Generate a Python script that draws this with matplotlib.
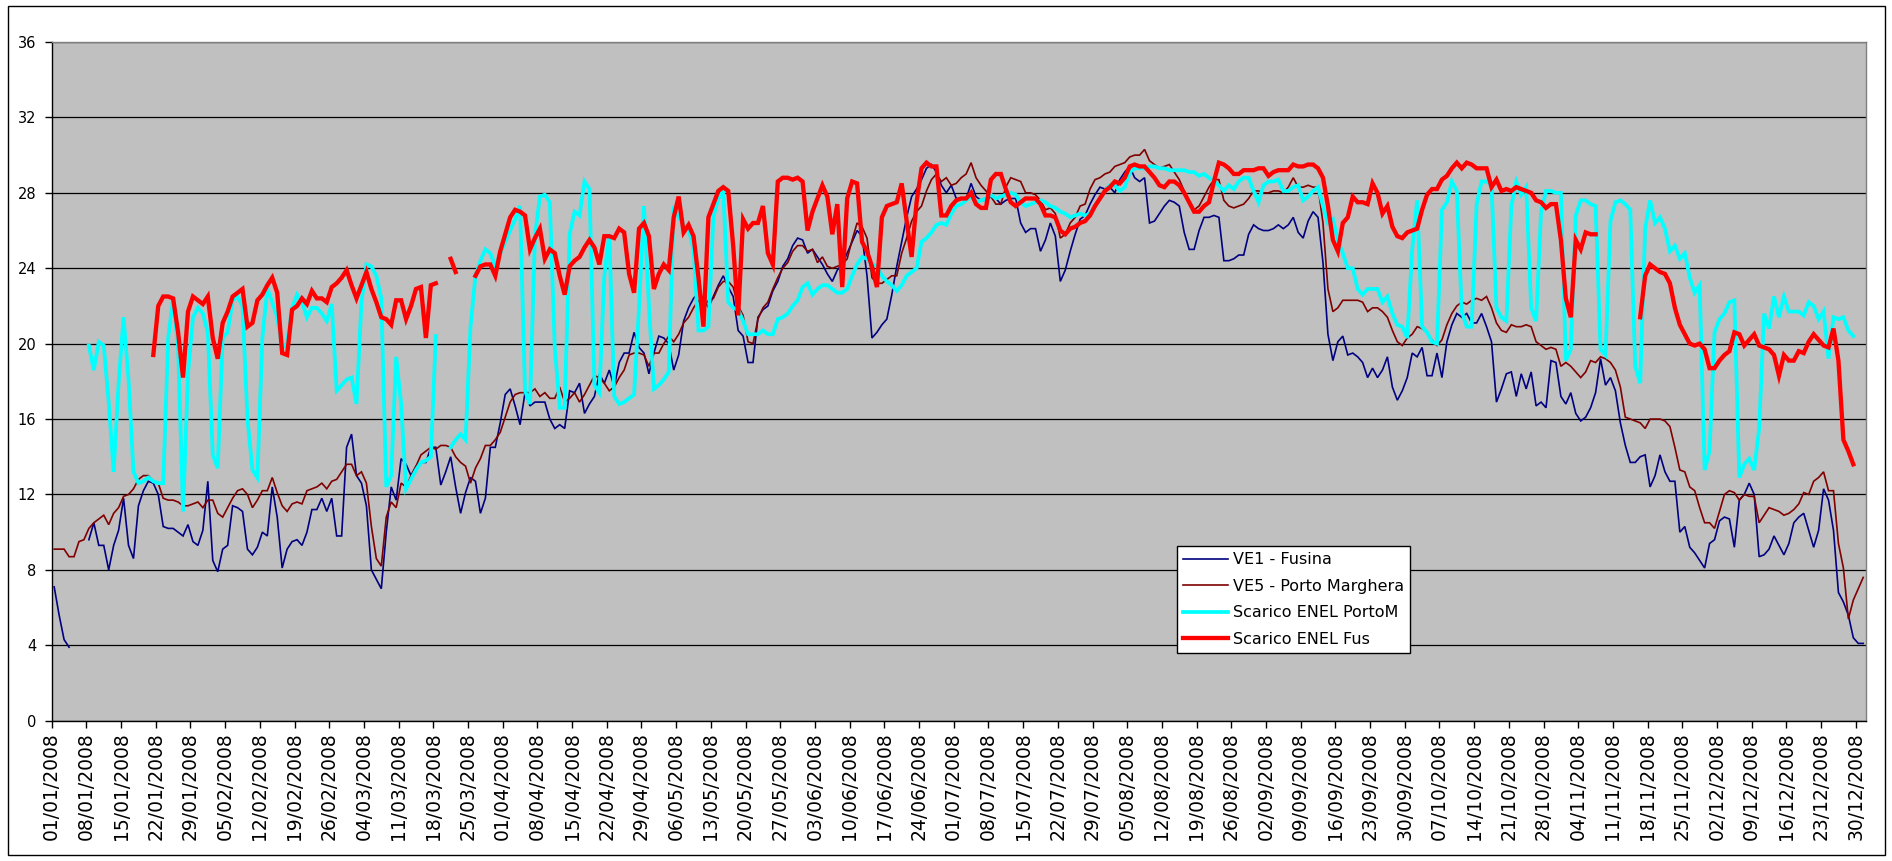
import numpy as np
import matplotlib
matplotlib.use('Agg')
import matplotlib.pyplot as plt
from matplotlib.patches import Rectangle
from datetime import date, timedelta

nan = np.nan

# daily values, 01/01/2008 .. 31/12/2008 (366 days)
ve1_fusina = [
    7.1, 5.6, 4.3, 3.9, nan, nan, nan, 9.6, 10.5, 9.3,
    9.3, 8.0, 9.3, 10.1, 11.8, 9.3, 8.6, 11.4, 12.2, 12.7,
    12.6, 12.0, 10.3, 10.2, 10.2, 10.0, 9.8, 10.4, 9.5, 9.3,
    10.1, 12.7, 8.5, 7.9, 9.1, 9.3, 11.4, 11.3, 11.1, 9.1,
    8.8, 9.2, 10.0, 9.8, 12.4, 10.8, 8.1, 9.1, 9.5, 9.6,
    9.3, 10.0, 11.2, 11.2, 11.8, 11.1, 11.8, 9.8, 9.8, 14.5,
    15.2, 13.0, 12.6, 11.4, 8.0, 7.5, 7.0, 10.0, 12.4, 11.7,
    13.9, 13.6, 13.0, 13.5, 13.7, 13.7, 14.5, 14.5, 12.5, 13.2,
    14.0, 12.4, 11.0, 12.1, 12.9, 12.7, 11.0, 11.8, 14.5, 14.5,
    15.8, 17.3, 17.6, 16.7, 15.7, 17.4, 16.7, 16.9, 16.9, 16.9,
    16.0, 15.5, 15.7, 15.5, 17.5, 17.4, 17.9, 16.3, 16.8, 17.2,
    18.4, 17.9, 18.6, 17.7, 19.0, 19.5, 19.5, 20.6, 19.8, 19.5,
    18.4, 19.5, 20.4, 20.3, 20.0, 18.6, 19.4, 21.2, 21.9, 22.4,
    22.7, 22.4, 21.9, 22.5, 23.1, 23.6, 23.0, 22.5, 20.7, 20.4,
    19.0, 19.0, 21.4, 21.8, 22.0, 22.8, 23.3, 24.1, 24.5, 25.2,
    25.6, 25.5, 24.8, 25.0, 24.6, 24.2, 23.7, 23.3, 23.9, 24.2,
    24.8, 25.4, 26.0, 25.7, 23.6, 20.3, 20.6, 21.0, 21.3, 22.6,
    24.1, 25.4, 26.7, 27.8, 28.2, 28.7, 29.3, 29.5, 29.1, 28.4,
    28.0, 28.4, 27.7, 27.7, 27.7, 28.5, 27.8, 27.6, 27.6, 27.8,
    27.7, 27.4, 27.6, 27.7, 27.7, 26.4, 25.9, 26.1, 26.1, 24.9,
    25.5, 26.4, 25.7, 23.3, 23.9, 24.9, 25.8, 26.6, 26.8, 27.4,
    27.9, 28.3, 28.2, 28.3, 28.0, 28.7, 29.1, 29.4, 28.8, 28.6,
    28.8, 26.4, 26.5, 26.9, 27.3, 27.6, 27.5, 27.3, 25.9, 25.0,
    25.0, 26.0, 26.7, 26.7, 26.8, 26.7, 24.4, 24.4, 24.5, 24.7,
    24.7, 25.8, 26.3, 26.1, 26.0, 26.0, 26.1, 26.3, 26.1, 26.3,
    26.7, 25.9, 25.6, 26.5, 27.0, 26.7, 24.3, 20.5, 19.1, 20.1,
    20.4, 19.4, 19.5, 19.3, 19.0, 18.2, 18.7, 18.2, 18.6, 19.3,
    17.7, 17.0, 17.5, 18.2, 19.5, 19.3, 19.8, 18.3, 18.3, 19.5,
    18.2, 20.1, 21.0, 21.6, 21.4, 21.6, 21.1, 21.1, 21.6, 20.9,
    20.1, 16.9, 17.6, 18.4, 18.5, 17.2, 18.4, 17.6, 18.5, 16.7,
    16.9, 16.6, 19.1, 19.0, 17.2, 16.8, 17.4, 16.3, 15.9, 16.1,
    16.6, 17.4, 19.2, 17.8, 18.2, 17.5, 15.8, 14.6, 13.7, 13.7,
    14.0, 14.1, 12.4, 13.0, 14.1, 13.2, 12.7, 12.7, 10.0, 10.3,
    9.2, 8.9, 8.5, 8.1, 9.4, 9.6, 10.6, 10.8, 10.7, 9.2,
    11.7, 12.0, 12.6, 12.0, 8.7, 8.8, 9.1, 9.8, 9.3, 8.8,
    9.4, 10.5, 10.8, 11.0, 10.1, 9.2, 10.1, 12.3, 11.7, 10.1,
    6.8, 6.3, 5.6, 4.4, 4.1, 4.1,
]

ve5_porto_marghera = [
    9.1, 9.1, 9.1, 8.7, 8.7, 9.5, 9.6, 10.2, 10.5, 10.7,
    10.9, 10.4, 11.0, 11.3, 11.9, 12.0, 12.3, 12.8, 13.0, 13.0,
    12.7, 12.6, 11.8, 11.7, 11.7, 11.6, 11.4, 11.4, 11.5, 11.6,
    11.3, 11.7, 11.7, 11.0, 10.8, 11.3, 11.8, 12.2, 12.3, 12.0,
    11.3, 11.7, 12.2, 12.2, 12.9, 12.1, 11.4, 11.1, 11.5, 11.6,
    11.5, 12.2, 12.3, 12.4, 12.6, 12.3, 12.7, 12.8, 13.2, 13.6,
    13.6, 13.0, 13.2, 12.6, 10.3, 8.6, 8.2, 10.8, 11.6, 11.3,
    12.6, 12.4, 13.0, 13.5, 14.1, 14.3, 14.5, 14.4, 14.6, 14.6,
    14.5, 14.0, 13.7, 13.5, 12.6, 13.4, 13.9, 14.6, 14.6, 14.9,
    15.3, 16.1, 16.9, 17.3, 17.4, 17.4, 17.4, 17.6, 17.2, 17.4,
    17.1, 17.1, 17.7, 16.9, 17.1, 17.4, 16.9, 17.3, 17.8, 18.3,
    18.2, 17.9, 17.5, 17.7, 18.2, 18.6, 19.4, 19.5, 19.5, 19.4,
    18.8, 19.5, 19.5, 20.0, 20.4, 20.1, 20.5, 21.1, 21.4, 21.9,
    22.3, 21.9, 22.3, 22.4, 23.0, 23.3, 23.3, 23.0, 22.0, 21.5,
    20.1, 20.0, 21.3, 21.9, 22.2, 22.9, 23.5, 24.0, 24.3, 24.9,
    25.2, 25.2, 24.9, 25.0, 24.3, 24.6, 24.1, 24.0, 24.1, 24.2,
    24.5, 25.5, 26.4, 26.2, 25.6, 23.5, 23.2, 23.2, 23.4, 23.6,
    23.6, 24.8, 25.6, 26.5, 27.0, 27.3, 28.1, 28.7, 29.0, 28.6,
    28.8, 28.4, 28.5, 28.8, 29.0, 29.6, 28.8, 28.4, 28.1, 27.8,
    27.4, 27.4, 28.3, 28.8, 28.7, 28.6, 28.0, 28.0, 27.9, 27.6,
    27.1, 27.2, 26.9, 25.6, 25.8, 26.4, 26.7, 27.3, 27.4, 28.2,
    28.7, 28.8, 29.0, 29.1, 29.4, 29.5, 29.6, 29.9, 30.0, 30.0,
    30.3, 29.7, 29.5, 29.3, 29.4, 29.5, 29.1, 28.7, 28.1, 27.5,
    27.1, 27.3, 27.8, 28.3, 28.7, 28.7, 27.6, 27.3, 27.2, 27.3,
    27.4, 27.7, 28.1, 28.1, 28.0, 28.0, 28.1, 28.1, 28.0, 28.3,
    28.8, 28.3, 28.3, 28.4, 28.3, 28.3, 26.4, 22.9, 21.7, 21.9,
    22.3, 22.3, 22.3, 22.3, 22.2, 21.7, 21.9, 21.9, 21.7, 21.4,
    20.7, 20.1, 19.9, 20.3, 20.5, 20.9, 20.8, 20.6, 20.2, 19.9,
    20.2, 21.0, 21.6, 22.0, 22.2, 22.1, 22.3, 22.4, 22.3, 22.5,
    21.9, 21.1, 20.7, 20.6, 21.0, 20.9, 20.9, 21.0, 20.9, 20.1,
    19.9, 19.7, 19.8, 19.7, 18.8, 19.0, 18.8, 18.5, 18.2, 18.5,
    19.1, 19.0, 19.3, 19.2, 19.0, 18.6, 17.7, 16.1, 16.0, 15.9,
    15.8, 15.5, 16.0, 16.0, 16.0, 15.9, 15.6, 14.5, 13.3, 13.2,
    12.4, 12.2, 11.3, 10.5, 10.5, 10.2, 11.1, 12.0, 12.2, 12.1,
    11.7, 12.0, 11.9, 11.9, 10.5, 10.9, 11.3, 11.2, 11.1, 10.9,
    11.0, 11.2, 11.5, 12.1, 12.0, 12.7, 12.9, 13.2, 12.2, 12.2,
    9.4, 8.1, 5.4, 6.4, 7.0, 7.6,
]

scarico_portom = [
    nan, nan, nan, nan, nan, nan, nan, 19.9, 18.6, 20.1,
    19.9, 16.9, 13.2, 17.9, 21.4, 18.1, 13.2, 12.6, 12.7, 12.9,
    12.7, 12.6, 12.6, 20.3, 22.4, 19.8, 11.1, 18.4, 21.4, 21.9,
    21.6, 20.6, 14.1, 13.4, 20.3, 20.6, 22.3, 22.5, 22.0, 16.0,
    13.3, 12.9, 20.3, 22.9, 22.2, 21.4, 19.8, 20.0, 21.9, 22.6,
    22.2, 21.4, 21.9, 21.9, 21.6, 21.2, 22.1, 17.5, 17.8, 18.1,
    18.2, 16.8, 22.2, 24.2, 24.1, 23.6, 22.4, 12.4, 13.0, 19.3,
    16.8, 12.3, 12.8, 13.3, 13.7, 13.8, 14.0, 20.4, nan, nan,
    14.5, 14.9, 15.2, 14.9, 20.9, 23.6, 24.4, 25.0, 24.8, 24.1,
    24.8, 25.4, 26.0, 26.6, 27.3, 17.5, 16.8, 25.7, 27.8, 27.9,
    27.5, 19.8, 16.6, 16.6, 25.8, 27.0, 26.8, 28.6, 28.2, 17.8,
    17.4, 23.6, 25.8, 17.2, 16.8, 16.9, 17.1, 17.3, 21.9, 27.3,
    22.0, 17.6, 17.8, 18.1, 18.5, 27.3, 26.7, 26.3, 26.1, 25.0,
    20.7, 20.7, 20.9, 26.7, 27.7, 28.1, 22.2, 21.9, 21.8, 21.2,
    20.5, 20.5, 20.5, 20.7, 20.5, 20.5, 21.3, 21.4, 21.6, 22.0,
    22.3, 23.0, 23.2, 22.6, 22.9, 23.1, 23.1, 22.9, 22.7, 22.7,
    22.9, 23.6, 24.2, 24.6, 24.5, 24.2, 24.1, 23.6, 23.3, 23.1,
    22.8, 23.1, 23.6, 23.8, 24.0, 25.4, 25.6, 25.9, 26.3, 26.4,
    26.3, 26.9, 27.3, 27.4, 27.6, 27.8, 27.5, 27.6, 27.7, 27.9,
    27.7, 27.8, 27.9, 28.0, 27.9, 27.5, 27.3, 27.4, 27.5, 27.6,
    27.5, 27.3, 27.2, 27.0, 26.9, 26.7, 26.8, 26.9, 26.8, 26.9,
    27.3, 27.7, 28.1, 28.4, 28.4, 28.1, 28.3, 29.1, 29.3, 29.3,
    29.3, 29.4, 29.4, 29.3, 29.3, 29.2, 29.2, 29.2, 29.2, 29.1,
    29.1, 28.9, 29.0, 28.8, 28.6, 28.4, 28.1, 28.4, 28.2, 28.6,
    28.8, 28.8, 28.1, 27.5, 28.4, 28.6, 28.6, 28.7, 28.1, 28.1,
    28.3, 28.4, 27.6, 27.8, 28.1, 28.3, 27.3, 26.4, 26.6, 25.5,
    24.8, 24.0, 24.0, 22.9, 22.6, 22.9, 22.9, 22.9, 22.2, 22.5,
    21.6, 21.0, 20.9, 20.3, 25.0, 27.6, 20.9, 20.6, 20.1, 20.0,
    27.1, 27.5, 28.6, 28.1, 21.7, 20.9, 20.9, 27.4, 28.6, 28.6,
    28.4, 21.9, 21.4, 21.2, 27.3, 28.6, 27.9, 28.3, 21.9, 21.2,
    27.0, 28.1, 28.1, 28.0, 28.0, 19.1, 19.7, 26.8, 27.6, 27.6,
    27.4, 27.3, 19.7, 19.4, 26.5, 27.5, 27.6, 27.4, 27.1, 18.8,
    17.9, 26.1, 27.6, 26.4, 26.7, 26.1, 24.9, 25.2, 24.5, 24.8,
    23.5, 22.7, 23.1, 13.3, 14.3, 20.6, 21.3, 21.6, 22.2, 22.3,
    12.9, 13.6, 13.9, 13.3, 15.5, 21.6, 20.8, 22.5, 21.4, 22.5,
    21.7, 21.7, 21.7, 21.5, 22.2, 22.0, 21.3, 21.7, 19.2, 21.4,
    21.3, 21.4, 20.7, 20.4, nan, nan,
]

scarico_fus = [
    nan, nan, nan, nan, nan, nan, nan, nan, nan, nan,
    nan, nan, nan, nan, nan, nan, nan, nan, nan, nan,
    19.4, 22.0, 22.5, 22.5, 22.4, 20.6, 18.2, 21.7, 22.5, 22.3,
    22.1, 22.5, 20.3, 19.2, 21.1, 21.7, 22.5, 22.7, 22.9, 20.9,
    21.1, 22.3, 22.6, 23.1, 23.5, 22.7, 19.5, 19.4, 21.8, 22.0,
    22.4, 22.1, 22.8, 22.4, 22.4, 22.2, 23.0, 23.2, 23.5, 23.9,
    23.1, 22.4, 23.1, 23.8, 22.9, 22.2, 21.4, 21.3, 21.0, 22.3,
    22.3, 21.3, 22.0, 22.9, 23.0, 20.3, 23.1, 23.2, nan, nan,
    24.5, 23.8, nan, nan, nan, 23.6, 24.1, 24.2, 24.2, 23.6,
    24.9, 25.8, 26.7, 27.1, 27.0, 26.8, 25.0, 25.6, 26.1, 24.5,
    25.0, 24.8, 23.6, 22.6, 24.1, 24.4, 24.6, 25.1, 25.5, 25.1,
    24.2, 25.7, 25.7, 25.6, 26.1, 25.9, 23.7, 22.7, 26.1, 26.4,
    25.7, 22.9, 23.7, 24.2, 23.9, 26.7, 27.8, 25.9, 26.3, 25.7,
    23.5, 20.9, 26.7, 27.4, 28.1, 28.3, 28.1, 25.2, 21.5, 26.6,
    26.1, 26.4, 26.4, 27.3, 24.8, 24.2, 28.6, 28.8, 28.8, 28.7,
    28.8, 28.6, 26.0, 27.0, 27.7, 28.4, 27.8, 25.8, 27.4, 23.0,
    27.7, 28.6, 28.5, 25.4, 24.9, 24.1, 23.0, 26.7, 27.3, 27.4,
    27.5, 28.5, 26.5, 24.6, 27.5, 29.3, 29.6, 29.4, 29.4, 26.8,
    26.8, 27.3, 27.6, 27.7, 27.7, 28.0, 27.4, 27.2, 27.2, 28.7,
    29.0, 29.0, 28.2, 27.5, 27.3, 27.5, 27.7, 27.7, 27.7, 27.4,
    26.8, 26.8, 26.7, 26.0, 25.8, 26.1, 26.2, 26.4, 26.5, 26.8,
    27.3, 27.7, 28.1, 28.3, 28.6, 28.5, 28.8, 29.4, 29.5, 29.4,
    29.4, 29.1, 28.8, 28.4, 28.3, 28.6, 28.6, 28.4, 28.0, 27.5,
    27.0, 27.0, 27.3, 27.5, 28.6, 29.6, 29.5, 29.3, 29.0, 29.0,
    29.2, 29.2, 29.2, 29.3, 29.3, 28.9, 29.1, 29.2, 29.2, 29.2,
    29.5, 29.4, 29.4, 29.5, 29.5, 29.3, 28.8, 27.3, 25.5, 24.9,
    26.4, 26.7, 27.8, 27.5, 27.5, 27.4, 28.5, 28.0, 26.9, 27.3,
    26.2, 25.7, 25.6, 25.9, 26.0, 26.1, 27.1, 27.9, 28.2, 28.2,
    28.7, 28.9, 29.3, 29.6, 29.3, 29.6, 29.5, 29.3, 29.3, 29.3,
    28.3, 28.7, 28.1, 28.2, 28.1, 28.3, 28.2, 28.1, 28.0, 27.6,
    27.5, 27.2, 27.4, 27.4, 25.5, 22.4, 21.4, 25.5, 25.0, 25.9,
    25.8, 25.8, nan, nan, nan, nan, nan, nan, nan, nan,
    21.4, 23.6, 24.2, 24.0, 23.8, 23.7, 23.2, 21.9, 21.0, 20.5,
    20.0, 19.9, 20.0, 19.7, 18.7, 18.7, 19.1, 19.4, 19.6, 20.6,
    20.5, 19.9, 20.2, 20.5, 19.9, 19.8, 19.7, 19.4, 18.3, 19.4,
    19.1, 19.1, 19.6, 19.5, 20.1, 20.5, 20.2, 19.9, 19.8, 20.8,
    19.1, 14.9, 14.3, 13.6, nan, nan,
]

series_names = ['VE1 - Fusina', 'VE5 - Porto Marghera',
                'Scarico ENEL PortoM', 'Scarico ENEL Fus']

start = date(2008, 1, 1)
n_days = 366
tick_days = list(range(0, n_days, 7))
tick_labels = [(start + timedelta(days=d)).strftime('%d/%m/%Y') for d in tick_days]

W, H = 1892, 861
fig = plt.figure(figsize=(W / 100, H / 100), dpi=100)
fig.patch.set_facecolor('white')
fig.patches.append(Rectangle((8 / W, 1 - 855 / H), (1885 - 8) / W, (855 - 6) / H,
                             transform=fig.transFigure, fill=False,
                             edgecolor='black', lw=1))

L, R, T, B = 51.7, 1865.7, 42, 720.7
ax = fig.add_axes([L / W, 1 - B / H, (R - L) / W, (B - T) / H])
ax.set_facecolor('#C0C0C0')

styles = [('#000080', 1.2), ('#800000', 1.2), ('#00FFFF', 2.7), ('#FF0000', 3.1)]
all_series = [ve1_fusina, ve5_porto_marghera, scarico_portom, scarico_fus]
for vals, name, (col, lw) in zip(all_series, series_names, styles):
    y = np.array(vals, dtype=float)
    x = np.arange(len(y)) + 0.5
    ax.plot(x, y, color=col, lw=lw, label=name, solid_joinstyle='miter', zorder=3)

ax.set_xlim(0, n_days)
ax.set_ylim(0, 36)
ax.set_yticks(range(0, 37, 4))
ax.yaxis.grid(True, color='black', lw=0.9)
ax.set_axisbelow(True)
ax.set_xticks(tick_days)
ax.set_xticklabels(tick_labels, rotation=90, fontsize=13.5)
ax.tick_params(axis='x', direction='out', length=5, width=1, color='black', pad=3)
ax.tick_params(axis='y', direction='out', length=5, width=1, color='black',
               labelsize=10.5, pad=6)

for s in ['left', 'bottom']:
    ax.spines[s].set_color('black')
    ax.spines[s].set_linewidth(1)
for s in ['top', 'right']:
    ax.spines[s].set_color('#808080')
    ax.spines[s].set_linewidth(1)

leg = ax.legend(loc='upper left', bbox_to_anchor=(1177 / W, 1 - 546 / H),
                bbox_transform=fig.transFigure, borderaxespad=0,
                fontsize=11.5, frameon=True, fancybox=False, framealpha=1,
                edgecolor='black', handlelength=2.8, handletextpad=0.3,
                labelspacing=0.72, borderpad=0.4)
leg.get_frame().set_linewidth(1)

fig.savefig('out.png', dpi=100)
